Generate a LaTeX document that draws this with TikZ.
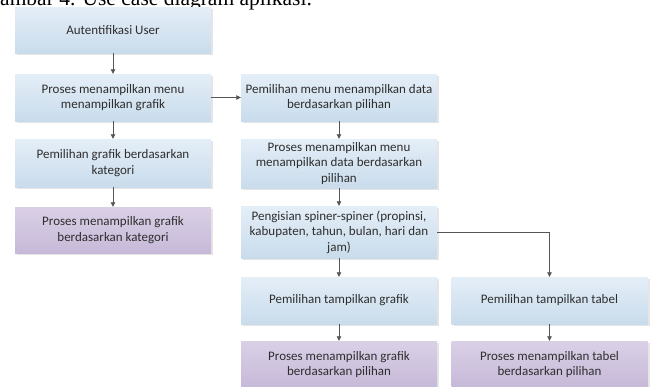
\documentclass[tikz,border=0pt]{standalone}
\usepackage{fontspec}
\setmainfont{Carlito}
\newfontfamily\capfont{Liberation Serif}
\usetikzlibrary{arrows.meta}
\definecolor{bluetop}{HTML}{E4EEF7}
\definecolor{bluebot}{HTML}{C9DCEC}
\definecolor{purtop}{HTML}{DAD0E6}
\definecolor{purbot}{HTML}{C6B9D8}
\definecolor{txt}{HTML}{2E2E2E}
\definecolor{ln}{HTML}{555555}
\tikzset{
  boxbase/.style={rectangle, inner sep=2pt, align=center, text=txt,
    font=\fontsize{13}{15.5}\selectfont, minimum width=196pt,
    preaction={fill=black, opacity=0.10, transform canvas={xshift=2pt, yshift=-2pt}}},
  bbox/.style={boxbase, top color=bluetop, bottom color=bluebot},
  pbox/.style={boxbase, top color=purtop, bottom color=purbot},
  arr/.style={draw=ln, line width=0.8pt, -{Triangle[length=4.5pt,width=4.5pt]}}
}
\begin{document}
\begin{tikzpicture}[x=1pt,y=-1pt]
\clip (0,0) rectangle (653,386);
\fill[white] (0,0) rectangle (653,386);
\node[anchor=base west, inner sep=0pt, font=\capfont\fontsize{21.5}{24}\selectfont] (cap) at (-15.5,5) {Gambar 4. Use case diagram aplikasi.};
% left column
\node[bbox, minimum height=46pt] (a) at (113,30) {Autentifikasi User};
\node[bbox, minimum height=47pt] (b) at (113,97.5) {Proses menampilkan menu\\menampilkan grafik};
\node[bbox, minimum height=48pt] (lk) at (113,163) {Pemilihan grafik berdasarkan\\kategori};
\node[pbox, minimum height=46pt] (lp) at (113,230) {Proses menampilkan grafik\\berdasarkan kategori};
% right column
\node[bbox, minimum height=47pt] (c) at (339,97.5) {Pemilihan menu menampilkan data\\berdasarkan pilihan};
\node[bbox, minimum height=49pt] (d) at (339,163.5) {Proses menampilkan menu\\menampilkan data berdasarkan\\pilihan};
\node[bbox, minimum height=52pt] (e) at (339,232) {Pengisian spiner-spiner (propinsi,\\kabupaten, tahun, bulan, hari dan\\jam)};
\node[bbox, minimum height=47pt] (f) at (339,300.5) {Pemilihan tampilkan grafik};
\node[pbox, minimum height=47pt] (h) at (339,364.5) {Proses menampilkan grafik\\berdasarkan pilihan};
\node[bbox, minimum height=47pt] (g) at (549.5,300.5) {Pemilihan tampilkan tabel};
\node[pbox, minimum height=47pt] (t) at (549.5,364.5) {Proses menampilkan tabel\\berdasarkan pilihan};
% connectors
\draw[arr] (a) -- (b);
\draw[arr] (b) -- (lk);
\draw[arr] (lk) -- (lp);
\draw[arr] (b) -- (c);
\draw[arr] (c) -- (d);
\draw[arr] (d) -- (e);
\draw[arr] (e) -- (f);
\draw[arr] (f) -- (h);
\draw[arr] (e.east) -| (g.north);
\draw[arr] (g) -- (t);
\end{tikzpicture}
\end{document}
